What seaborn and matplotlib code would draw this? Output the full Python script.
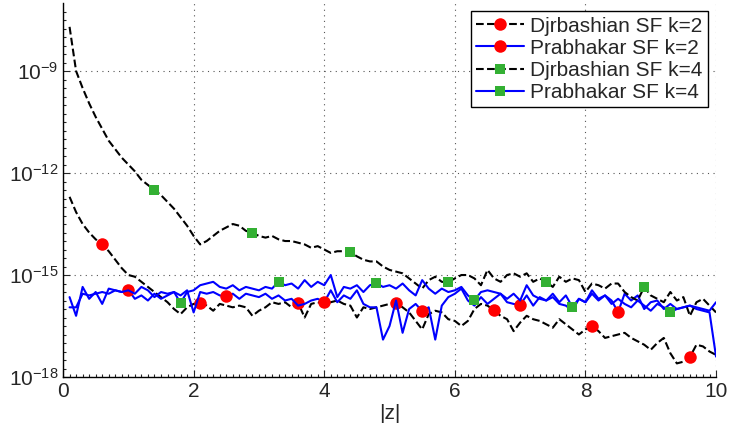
import numpy as np
import matplotlib
matplotlib.use("Agg")
import matplotlib.pyplot as plt
import matplotlib.ticker as mticker
import seaborn as sns

# |z| grid (0.1 ... 10.0)
z = np.linspace(0.1, 10.0, 100)

# log10 of the errors
djr_k2 = [-12.7, -13.15, -13.5, -13.75, -13.95, -14.1, -14.3, -14.55, -14.8, -15.0,
          -15.05, -15.2, -15.35, -15.5, -15.65, -15.8, -16.0, -16.15, -15.95, -15.85,
          -15.82, -15.9, -16.05, -15.85, -15.9, -15.95, -15.9, -15.95, -16.2, -16.05,
          -15.95, -15.8, -15.85, -15.8, -15.95, -15.82, -16.25, -15.85, -15.8, -15.85,
          -15.8, -15.75, -15.85, -15.9, -16.25, -15.95, -16.0, -15.95, -15.9, -15.85,
          -15.82, -15.95, -16.1, -16.35, -16.6, -16.15, -16.05, -16.1, -16.3, -16.35,
          -16.5, -16.35, -16.0, -15.85, -15.9, -16.04, -16.2, -16.3, -16.65, -16.4,
          -16.2, -16.3, -16.35, -16.45, -16.55, -16.3, -16.45, -16.6, -16.75, -16.6,
          -16.5, -16.65, -16.85, -16.8, -16.75, -16.7, -16.85, -16.95, -17.05, -17.2,
          -17.0, -16.85, -17.3, -17.6, -17.55, -17.41, -17.05, -17.1, -17.25, -17.35]

prab_k2 = [-15.95, -15.95, -15.55, -15.6, -15.55, -15.5, -15.55, -15.45, -15.5, -15.44,
           -15.7, -15.6, -15.75, -15.55, -15.7, -15.6, -15.5, -15.6, -15.45, -16.1,
           -15.5, -15.55, -15.5, -15.6, -15.62, -15.55, -15.7, -15.55, -15.6, -15.65,
           -15.55, -15.7, -15.6, -15.75, -15.7, -15.9, -15.85, -15.75, -15.7, -15.8,
           -15.45, -15.8, -15.6, -15.7, -15.45, -15.85, -15.95, -15.95, -16.9, -16.5,
           -15.75, -16.7, -16.0, -15.85, -16.06, -15.95, -16.9, -15.9, -15.65, -15.55,
           -15.4, -15.75, -15.9, -15.65, -15.85, -15.7, -15.55, -15.8, -15.85, -15.88,
           -15.6, -15.9, -15.65, -15.75, -15.65, -15.85, -15.9, -16.05, -15.7, -15.8,
           -15.45, -15.7, -15.6, -15.75, -16.09, -15.55, -15.75, -15.6, -16.0, -15.8,
           -15.75, -16.0, -15.85, -16.0, -15.95, -15.9, -16.0, -16.05, -16.1, -17.4]

djr_k4 = [-7.7, -9.0, -9.5, -9.95, -10.35, -10.7, -11.05, -11.3, -11.55, -11.75,
          -11.95, -12.2, -12.35, -12.5, -12.65, -12.85, -13.05, -13.3, -13.55, -13.85,
          -14.1, -14.0, -13.85, -13.7, -13.6, -13.5, -13.55, -13.7, -13.76, -13.85,
          -13.9, -13.85, -13.95, -14.0, -14.0, -14.05, -14.1, -14.2, -14.15, -14.25,
          -14.35, -14.3, -14.3, -14.33, -14.45, -14.55, -14.6, -14.6, -14.75, -14.85,
          -14.9, -14.95, -15.1, -15.25, -15.4, -15.15, -15.05, -15.2, -15.21, -15.1,
          -15.0, -15.0, -15.1, -15.3, -14.85, -15.1, -15.2, -15.0, -14.95, -15.05,
          -14.95, -15.2, -15.1, -15.2, -15.35, -15.05, -15.2, -15.1, -15.15, -15.5,
          -15.25, -15.3, -15.4, -15.25, -15.25, -15.5, -15.65, -15.75, -15.35, -15.6,
          -15.7, -15.8, -15.5, -15.75, -15.65, -16.2, -15.8, -15.7, -15.9, -16.1]

prab_k4 = [-15.65, -16.2, -15.35, -15.7, -15.5, -15.85, -15.4, -15.45, -15.5, -15.45,
           -15.55, -15.35, -15.45, -15.65, -15.5, -15.55, -15.5, -15.82, -15.5, -15.45,
           -15.3, -15.25, -15.2, -15.35, -15.4, -15.3, -15.45, -15.35, -15.4, -15.45,
           -15.35, -15.4, -15.2, -15.3, -15.25, -15.4, -15.15, -15.35, -15.2, -15.3,
           -15.0, -15.65, -15.35, -15.4, -15.3, -15.5, -15.3, -15.24, -15.35, -15.3,
           -15.4, -15.25, -15.45, -15.6, -15.15, -15.4, -15.55, -15.4, -15.5, -15.45,
           -15.35, -15.6, -15.74, -15.5, -15.45, -15.5, -15.55, -15.7, -15.55, -15.75,
           -15.3, -15.6, -15.7, -15.75, -15.55, -15.8, -15.6, -15.94, -15.7, -15.8,
           -15.55, -15.75, -15.6, -15.85, -15.7, -15.85, -15.95, -15.75, -15.9, -16.05,
           -15.85, -15.95, -16.09, -16.0, -15.95, -15.9, -15.95, -16.0, -16.05, -15.8]

labels = ["Djrbashian SF k=2", "Prabhakar SF k=2", "Djrbashian SF k=4", "Prabhakar SF k=4"]

# marker positions (indices into z)
marks_djr_k2 = [5, 20, 35, 50, 65, 80, 95]
marks_prab_k2 = [9, 24, 39, 54, 69, 84]
marks_djr_k4 = [13, 28, 43, 58, 73, 88]
marks_prab_k4 = [17, 32, 47, 62, 77, 92]

sns.set_style("ticks")
plt.rcParams["font.family"] = ["Liberation Sans", "DejaVu Sans"]
plt.rcParams["mathtext.fontset"] = "custom"
plt.rcParams["mathtext.rm"] = "Liberation Sans"
plt.rcParams["mathtext.it"] = "Liberation Sans:italic"

fig = plt.figure(figsize=(7.32, 4.36), dpi=100)
ax = fig.add_axes([0.0861, 0.1353, 0.8921, 0.8577])

red = "#ff0000"
green = "#33b033"
series = [
    (djr_k2, "black", "--", "o", red, 9, marks_djr_k2),
    (prab_k2, "#0000ff", "-", "o", red, 9, marks_prab_k2),
    (djr_k4, "black", "--", "s", green, 7.5, marks_djr_k4),
    (prab_k4, "#0000ff", "-", "s", green, 7.5, marks_prab_k4),
]
for (vals, col, ls, mk, mcol, ms, every), lab in zip(series, labels):
    sns.lineplot(x=z, y=10.0 ** np.array(vals), ax=ax, color=col, linestyle=ls,
                 linewidth=1.5, marker=mk, markersize=ms, markerfacecolor=mcol,
                 markeredgecolor=mcol, markeredgewidth=0, markevery=every,
                 label=lab, dashes=(4, 3) if ls == "--" else None)

ax.set_yscale("log")
ax.set_xlim(0, 10)
ax.set_ylim(1e-18, 1e-7)
ax.set_xticks([0, 2, 4, 6, 8, 10])
ax.set_yticks([1e-18, 1e-15, 1e-12, 1e-9])
ax.yaxis.set_major_formatter(mticker.FuncFormatter(lambda v, p: r"$10^{%d}$" % round(np.log10(v))))
ax.minorticks_on()
ax.xaxis.set_minor_locator(mticker.MultipleLocator(0.1))
ax.yaxis.set_minor_locator(mticker.FixedLocator(10.0 ** np.arange(-18, -7, 0.25)))
ax.yaxis.set_minor_formatter(mticker.NullFormatter())
ax.tick_params(which="both", direction="in", labelsize=15, width=0.8)
ax.tick_params(which="major", length=5)
ax.tick_params(which="minor", length=2.5)
ax.grid(True, which="major", linestyle=(0, (1, 4)), color="#555555", linewidth=0.8)
sns.despine(ax=ax, top=True, right=True)
for s in ["left", "bottom"]:
    ax.spines[s].set_linewidth(1.0)
    ax.spines[s].set_color("black")

ax.set_xlabel("|z|", fontsize=15, labelpad=2)
ax.set_ylabel("")

leg = ax.legend(loc="upper right", fontsize=15, frameon=True, fancybox=False,
                edgecolor="black", framealpha=1, borderpad=0.25, labelspacing=0.15,
                handlelength=2.3, handletextpad=0.3, borderaxespad=0.4)
leg.get_frame().set_linewidth(1.0)

fig.savefig("out.png", dpi=100)
